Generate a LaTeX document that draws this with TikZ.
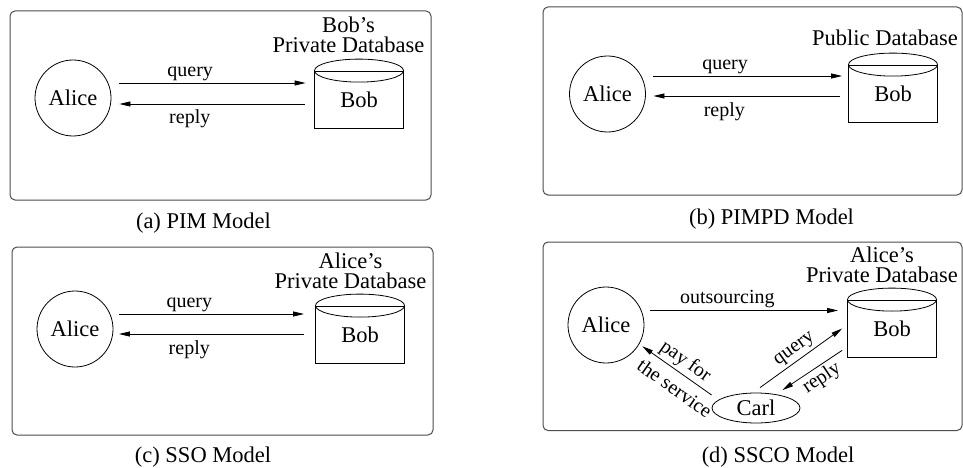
\documentclass[tikz,border=0pt]{standalone}
\usepackage{fontspec}
\setmainfont[Ligatures=TeX]{Liberation Serif}
\newfontfamily\figfont[Ligatures=TeX]{Liberation Serif}
\usetikzlibrary{arrows.meta,shapes.geometric}

\begin{document}
\begin{tikzpicture}[x=1pt, y=-1pt, line width=0.8pt, >={Triangle[length=11pt,width=5pt]},
    panel/.style={draw=black!70, line width=1pt, rounded corners=5pt},
    actor/.style={circle, draw, minimum size=76pt, inner sep=0pt, font=\figfont\fontsize{22.5}{20}\selectfont},
    store/.style={rectangle, draw, minimum width=89pt, minimum height=57pt, inner sep=0pt, font=\figfont\fontsize{22.5}{20}\selectfont},
    client/.style={ellipse, draw, minimum width=88pt, minimum height=30pt, inner sep=0pt, font=\figfont\fontsize{22.5}{20}\selectfont},
    dbname/.style={anchor=south, align=center, inner sep=0pt, font=\figfont\fontsize{22.5}{20}\selectfont},
    msg/.style={inner sep=0pt, font=\figfont\fontsize{20}{20}\selectfont},
    caption/.style={anchor=base, inner sep=0pt, font=\figfont\fontsize{22.5}{20}\selectfont}]
    \useasboundingbox (0,0) rectangle (963,468);

    % (a) PIM
    \draw[panel] (10,11) rectangle (431,200);
    \node[actor] (aliceA) at (73,98) {Alice};
    \node[store] (bobA) at (359,99.5) {Bob};
    \draw (bobA.north) ellipse [x radius=44.5pt, y radius=11.5pt];
    \node[dbname] (nameA) at (348.5,53) {Bob's\\Private Database};
    \draw[->] ([xshift=8pt,yshift=15pt]aliceA.east) -- ([xshift=-8.5pt,yshift=15pt]aliceA.east -| bobA.west)
      node[msg, pos=0.38, above=1.5pt] {query};
    \draw[->] ([xshift=-9.5pt,yshift=-6pt]aliceA.east -| bobA.west) -- ([xshift=8pt,yshift=-6pt]aliceA.east)
      node[msg, pos=0.62, below=5pt] {reply};
    \node[caption] (capA) at (203.5,228.5) {(a) PIM Model};

    % (b) PIMPD
    \draw[panel] (543,7) rectangle (962,195);
    \node[actor] (aliceB) at (607.5,94) {Alice};
    \node[store] (bobB) at (893,93.5) {Bob};
    \draw (bobB.north) ellipse [x radius=44.5pt, y radius=11.5pt];
    \node[dbname] (nameB) at (885,46.5) {Public Database};
    \draw[->] ([xshift=7.5pt,yshift=18pt]aliceB.east) -- ([xshift=-6pt,yshift=18pt]aliceB.east -| bobB.west)
      node[msg, pos=0.38, above=1.5pt] {query};
    \draw[->] ([xshift=-8pt,yshift=-2pt]aliceB.east -| bobB.west) -- ([xshift=7.5pt,yshift=-2pt]aliceB.east)
      node[msg, pos=0.62, below=6pt] {reply};
    \node[caption] (capB) at (771.5,224.5) {(b) PIMPD Model};

    % (c) SSO
    \draw[panel] (12,247) rectangle (433,435);
    \node[actor] (aliceC) at (75,329) {Alice};
    \node[store] (bobC) at (360,334.5) {Bob};
    \draw (bobC.north) ellipse [x radius=44.5pt, y radius=11.5pt];
    \node[dbname] (nameC) at (350.5,289) {Alice's\\Private Database};
    \draw[->] ([xshift=5.5pt,yshift=15pt]aliceC.east) -- ([xshift=-11pt,yshift=15pt]aliceC.east -| bobC.west)
      node[msg, pos=0.38, above=1.5pt] {query};
    \draw[->] ([xshift=-11pt,yshift=-5pt]aliceC.east -| bobC.west) -- ([xshift=5.5pt,yshift=-5pt]aliceC.east)
      node[msg, pos=0.62, below=6pt] {reply};
    \node[caption] (capC) at (203,462) {(c) SSO Model};

    % (d) SSCO
    \draw[panel] (543,242) rectangle (962,430.5);
    \node[actor] (aliceD) at (606,325) {Alice};
    \node[store] (bobD) at (892,328.5) {Bob};
    \draw (bobD.north) ellipse [x radius=44.5pt, y radius=11.5pt];
    \node[dbname] (nameD) at (882,283.5) {Alice's\\Private Database};
    \node[client] (carl) at (756,408) {Carl};
    \draw[->] ([xshift=6pt,yshift=14.5pt]aliceD.east) -- ([xshift=-9pt,yshift=14.5pt]aliceD.east -| bobD.west)
      node[msg, pos=0.41, above=2pt] {outsourcing};
    \draw[->] ([xshift=4pt,yshift=5pt]carl.north) -- ([xshift=-5pt]bobD.west)
      node[msg, midway, sloped, above=3pt] {query};
    \draw[->] ([xshift=-5pt,yshift=7pt]bobD.south west) -- ([xshift=-5pt,yshift=7pt]carl.north east)
      node[msg, pos=0.45, sloped, below=2.5pt] {reply};
    \draw[->] ([yshift=13pt]carl.west) -- ([xshift=3pt,yshift=-2pt]aliceD.-30)
      node[msg, pos=0.48, sloped, above=2.5pt] {pay for}
      node[msg, pos=0.40, sloped, below=8pt] {the service};
    \node[caption] (capD) at (778,462) {(d) SSCO Model};
\end{tikzpicture}
\end{document}
